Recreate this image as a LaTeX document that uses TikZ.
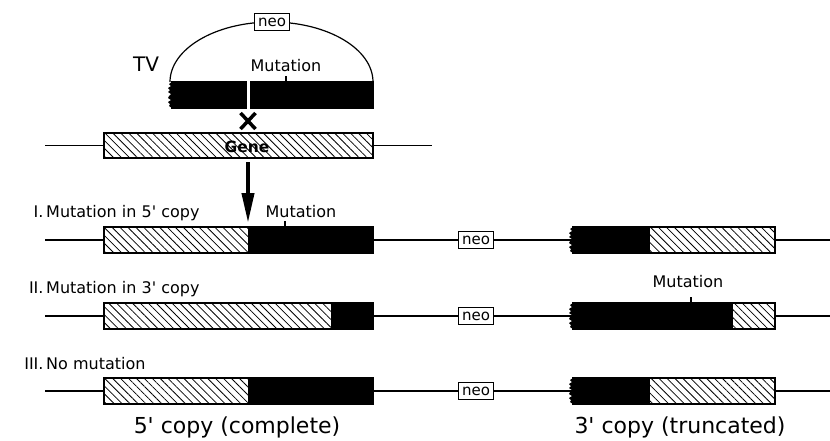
\documentclass[tikz,border=0pt]{standalone}
\usepackage{fontspec}
\setmainfont{DejaVu Sans}[Ligatures=TeXOff]
\usetikzlibrary{patterns.meta,arrows.meta}

% ragged (cut) left end of a truncated segment: x, top y, bottom y
\newcommand\jagleft[3]{%
  \fill (#1,#2) -- ({#1-3},{#2+2}) -- ({#1-1},{#2+4}) -- ({#1-4},{#2+6})
    -- ({#1-2},{#2+8}) -- ({#1-4},{#2+10}) -- ({#1-1},{#2+12}) -- ({#1-3},{#2+14})
    -- ({#1-4},{#2+16}) -- ({#1-1},{#2+18}) -- ({#1-4},{#2+20}) -- ({#1-2},{#2+22})
    -- ({#1-3},{#2+24}) -- (#1,#3) -- cycle;}

\tikzset{
  seg/.style={inner sep=0pt, outer sep=0pt, anchor=north west, line width=1.2pt, draw=black},
  hatchseg/.style={seg, pattern={Lines[angle=-45,distance=5.6pt,line width=0.8pt]}},
  blackseg/.style={seg, fill=black},
  dna/.style={line width=1.2pt},
  neobox/.style={draw, line width=1.3pt, fill=white, inner sep=0pt, minimum width=35pt,
    minimum height=17pt, font=\fontsize{15}{15}\selectfont},
  lbl/.style={inner sep=0pt, font=\fontsize{16}{18}\selectfont},
  biglbl/.style={inner sep=0pt, font=\fontsize{22}{24}\selectfont, anchor=base},
  tick/.style={line width=2.6pt},
}

\begin{document}
\begin{tikzpicture}[x=1pt,y=-1pt]
\fill[white] (0,0) rectangle (830,440);
\useasboundingbox (0,0) rectangle (830,440);

% ---- targeting vector
\node[inner sep=0pt, anchor=base west, font=\fontsize{20}{22}\selectfont] (tv) at (133,71) {TV};
\node[blackseg, minimum width=74pt, minimum height=26pt] (tvL) at (172,82) {};
\node[blackseg, minimum width=122pt, minimum height=26pt] (tvR) at (251,82) {};
\jagleft{172}{82}{108}
\draw[dna] (tvR.north east) arc[start angle=0, end angle=180, x radius=101.5pt, y radius=60pt];
\node[neobox] (tvneo) at (272,22) {neo};
\draw[tick] (286,76) -- (286,82.5);
\node[lbl, anchor=base] (tvmut) at (286,71) {Mutation};

% crossover
\draw[line width=3.5pt] (240.5,113) -- (255.5,129) (240.5,129) -- (255.5,113);

% ---- endogenous gene
\coordinate (gL) at (45,145.5);
\coordinate (gR) at (432,145.5);
\node[hatchseg, minimum width=269pt, minimum height=25pt] (gene) at (104,133) {};
\draw[dna] (gL) -- (gene.west) (gene.east) -- (gR);
\node[inner sep=0pt, font=\fontsize{15.5}{15.5}\selectfont\bfseries] (genetxt) at (247,146.5) {Gene};

% recombination arrow
\coordinate (arrA) at (248,162);
\coordinate (arrB) at (248,223);
\draw[line width=4pt, -{Triangle[width=12pt,length=30pt]}] (arrA) -- (arrB);

% ---- I. mutation in 5' copy
\node[lbl, anchor=base west] (lab1) at (46,217) {\llap{I.\,}Mutation in 5' copy};
\coordinate (aL) at (45,240);
\coordinate (aR) at (830,240);
\node[hatchseg, minimum width=145pt, minimum height=26pt] (a1) at (104,227) {};
\node[blackseg, minimum width=124pt, minimum height=26pt] (a2) at (249,227) {};
\node[neobox] (aneo) at (476,240) {neo};
\node[blackseg, minimum width=76pt, minimum height=26pt] (a3) at (573,227) {};
\node[hatchseg, minimum width=126pt, minimum height=26pt] (a4) at (649,227) {};
\jagleft{573}{227}{253}
\draw[dna] (aL) -- (a1.west) (a2.east) -- (aneo.west) (aneo.east) -- (a3.west) (a4.east) -- (aR);
\draw[tick] (285,221) -- (285,227.5);
\node[lbl, anchor=base] (amut) at (301,217) {Mutation};

% ---- II. mutation in 3' copy
\node[lbl, anchor=base west] (lab2) at (46,293) {\llap{II.\,}Mutation in 3' copy};
\coordinate (bL) at (45,316);
\coordinate (bR) at (830,316);
\node[hatchseg, minimum width=228pt, minimum height=26pt] (b1) at (104,303) {};
\node[blackseg, minimum width=41pt, minimum height=26pt] (b2) at (332,303) {};
\node[neobox] (bneo) at (476,316) {neo};
\node[blackseg, minimum width=159pt, minimum height=26pt] (b3) at (573,303) {};
\node[hatchseg, minimum width=43pt, minimum height=26pt] (b4) at (732,303) {};
\jagleft{573}{303}{329}
\draw[dna] (bL) -- (b1.west) (b2.east) -- (bneo.west) (bneo.east) -- (b3.west) (b4.east) -- (bR);
\draw[tick] (691,297) -- (691,303.5);
\node[lbl, anchor=base] (bmut) at (688,287) {Mutation};

% ---- III. no mutation
\node[lbl, anchor=base west] (lab3) at (46,369) {\llap{III.\,}No mutation};
\coordinate (cL) at (45,391);
\coordinate (cR) at (830,391);
\node[hatchseg, minimum width=145pt, minimum height=26pt] (c1) at (104,378) {};
\node[blackseg, minimum width=124pt, minimum height=26pt] (c2) at (249,378) {};
\node[neobox] (cneo) at (476,391) {neo};
\node[blackseg, minimum width=76pt, minimum height=26pt] (c3) at (573,378) {};
\node[hatchseg, minimum width=126pt, minimum height=26pt] (c4) at (649,378) {};
\jagleft{573}{378}{404}
\draw[dna] (cL) -- (c1.west) (c2.east) -- (cneo.west) (cneo.east) -- (c3.west) (c4.east) -- (cR);

% ---- captions
\node[biglbl] (cap5) at (237,433) {5' copy (complete)};
\node[biglbl] (cap3) at (680,433) {3' copy (truncated)};
\end{tikzpicture}
\end{document}
